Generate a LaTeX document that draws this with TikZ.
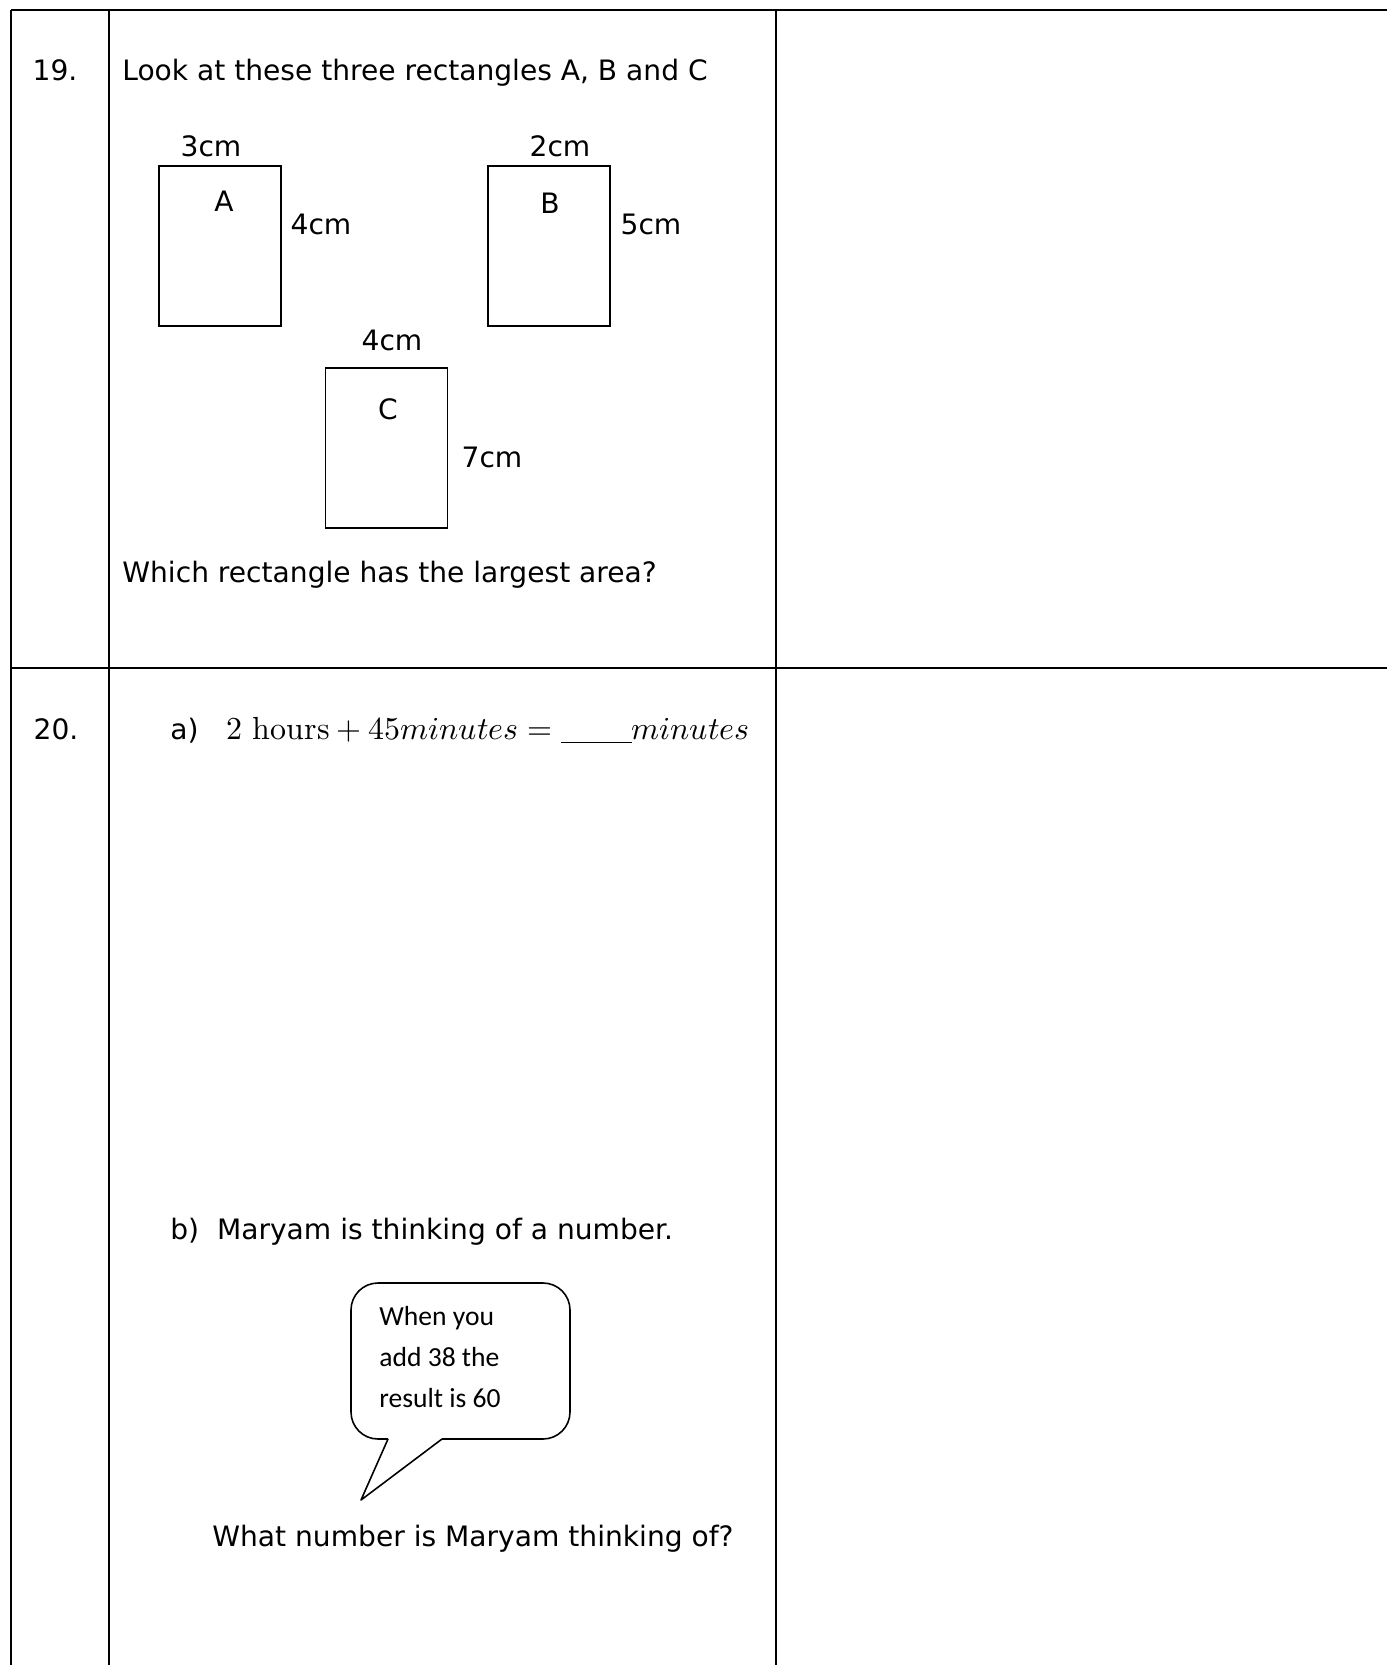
\documentclass[tikz,border=0pt]{standalone}
\usepackage{fontspec}
\usepackage{unicode-math}
\setmainfont{DejaVu Sans}
\newfontfamily\bubblefont{Carlito}
\tikzset{
  gridline/.style   = {line width=1.5pt},
  rectbox/.style    = {draw, line width=0.85pt, minimum width=2.44cm,
                       minimum height=3.2cm, inner sep=0pt},
  txt/.style        = {inner sep=0pt, font=\fontsize{16}{19}\selectfont},
  sumtxt/.style     = {inner sep=0pt, font=\fontsize{18.2}{21}\selectfont},
  bubbletxt/.style  = {inner sep=0pt, align=left,
                       font=\bubblefont\fontsize{15.7}{23.3}\selectfont},
  bubbleline/.style = {line width=0.9pt, line join=round}
}

\begin{document}
\begin{tikzpicture}[x=0.02cm, y=-0.02cm]
	\useasboundingbox (0,0) rectangle (1387,1665);
	% table
	\draw[gridline] (11,10) -- (1387,10);
	\draw[gridline] (11,668) -- (1387,668);
	\draw[gridline] (11,10) -- (11,1665);
	\draw[gridline] (109,10) -- (109,1665);
	\draw[gridline] (776,10) -- (776,1665);
	% question 19
	\node[txt, anchor=base] (num19) at (55,81) {19.};
	\node[txt, anchor=base west] (ask19a) at (122,81) {Look at these three rectangles A, B and C};
	\node[rectbox] (rectA) at (220,246) {};
	\node[rectbox] (rectB) at (549,246) {};
	\node[rectbox] (rectC) at (386.5,448) {};
	\node[txt, anchor=base] (topA) at (211,157) {3cm};
	\node[txt, anchor=base] (labA) at (224,212) {A};
	\node[txt, anchor=base] (sideA) at (321,235) {4cm};
	\node[txt, anchor=base] (topB) at (560,157) {2cm};
	\node[txt, anchor=base] (labB) at (550,214) {B};
	\node[txt, anchor=base] (sideB) at (651,235) {5cm};
	\node[txt, anchor=base] (topC) at (392,351) {4cm};
	\node[txt, anchor=base] (labC) at (388,419) {C};
	\node[txt, anchor=base] (sideC) at (492,467) {7cm};
	\node[txt, anchor=base west] (ask19b) at (122,582) {Which rectangle has the largest area?};
	% question 20
	\node[txt, anchor=base] (num20) at (56,739) {20.};
	\node[txt, anchor=base west] (partA) at (170,739) {a)};
	\node[sumtxt, anchor=base west] (sumA) at (226,739)
		{$2\ \symup{hours}+45minutes=\rule[-2.5pt]{40pt}{0.7pt}minutes$};
	\node[txt, anchor=base west] (partB) at (170,1239) {b)\ \ Maryam is thinking of a number.};
	\draw[bubbleline, rounded corners=0.54cm] (442,1439) -- (570,1439) -- (570,1283)
		-- (351,1283) -- (351,1439) -- (388,1439);
	\draw[bubbleline] (388,1439) -- (361,1500) -- (442,1439);
	\node[bubbletxt, anchor=north west] (said) at (379,1306)
		{When you\\add 38 the\\result is 60};
	\node[txt, anchor=base west] (ask20) at (212,1546) {What number is Maryam thinking of?};
\end{tikzpicture}
\end{document}
